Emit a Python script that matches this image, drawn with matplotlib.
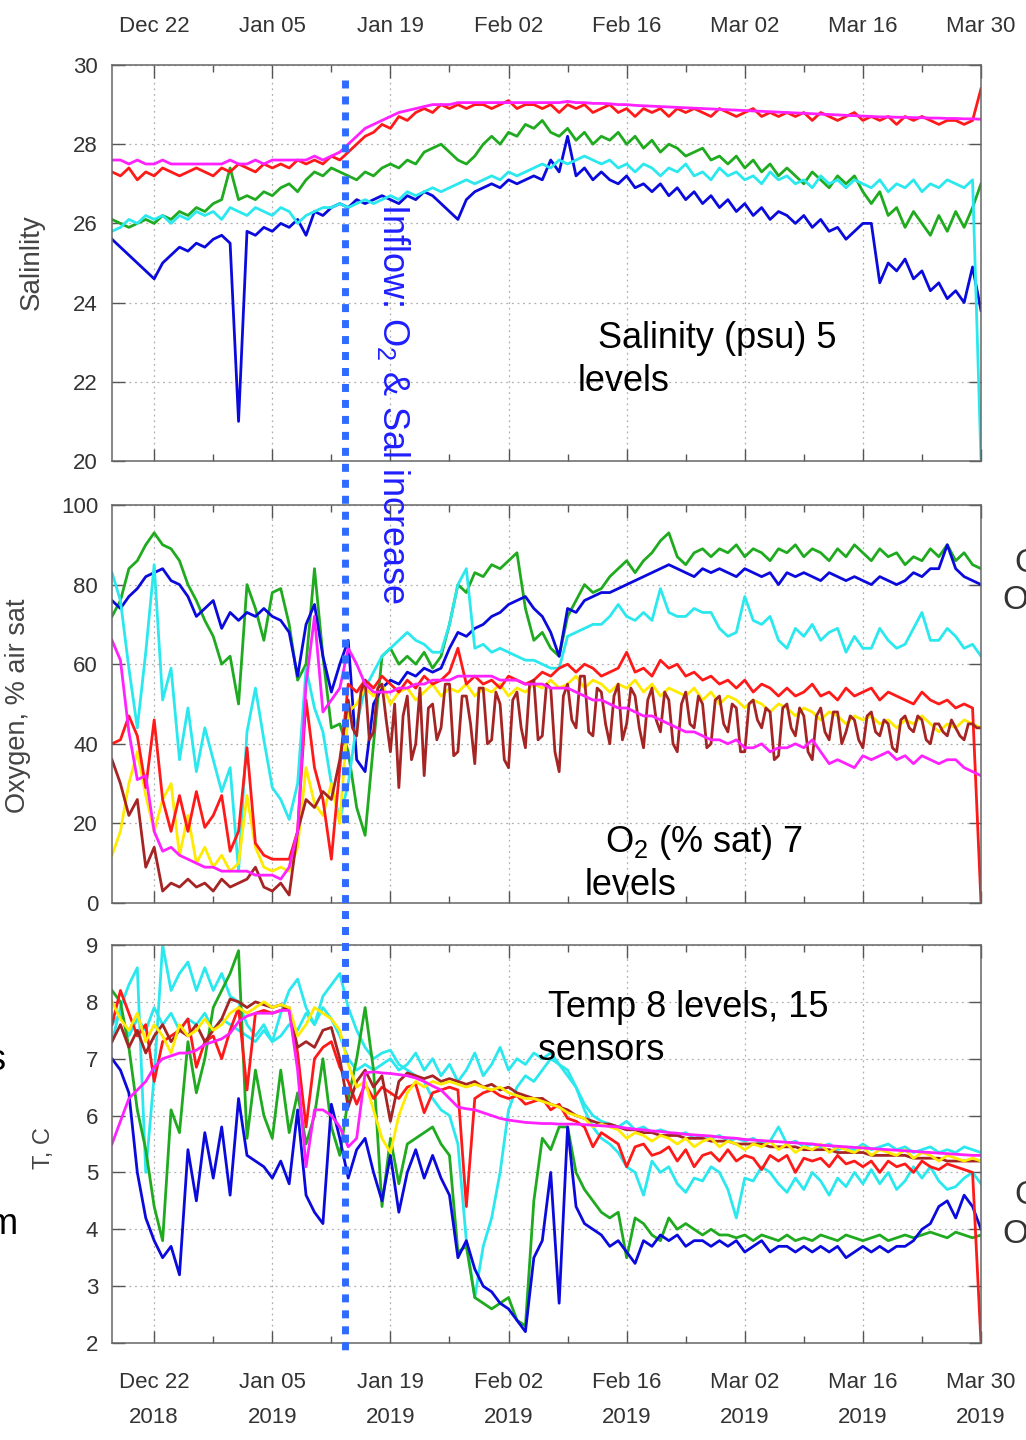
import matplotlib
matplotlib.use('Agg')
import matplotlib.pyplot as plt
import numpy as np
from matplotlib.lines import Line2D
from matplotlib import transforms

plt.rcParams['font.family'] = ['Liberation Sans', 'DejaVu Sans']
plt.rcParams['mathtext.fontset'] = 'custom'
plt.rcParams['mathtext.rm'] = 'Liberation Sans'
plt.rcParams['mathtext.it'] = 'Liberation Sans:italic'

# day 0 = 17 Dec 2018 ... day 103 = 30 Mar 2019, one value per day
tick_days = [5, 19, 33, 47, 61, 75, 89, 103]
minor_days = [12, 26, 40, 54, 68, 82, 96]
tick_top = ['Dec 22', 'Jan 05', 'Jan 19', 'Feb 02', 'Feb 16', 'Mar 02', 'Mar 16', 'Mar 30']
tick_years = ['2018', '2019', '2019', '2019', '2019', '2019', '2019', '2019']
inflow_day = 27.6

# ---- salinity (psu)
sal_red = [27.3, 27.2, 27.4, 27.1, 27.3, 27.2, 27.4, 27.3, 27.2, 27.3,
           27.4, 27.3, 27.2, 27.4, 27.3, 27.5, 27.4, 27.3, 27.5, 27.4,
           27.5, 27.4, 27.6, 27.5, 27.6, 27.5, 27.7, 27.6, 27.8, 28.0,
           28.2, 28.3, 28.5, 28.4, 28.7, 28.6, 28.8, 28.9, 28.8, 29.0,
           28.9, 29.0, 28.9, 29.0, 29.0, 28.9, 29.0, 29.1, 28.9, 29.0,
           29.0, 28.9, 29.0, 28.8, 29.0, 28.9, 29.0, 28.8, 28.9, 29.0,
           28.8, 28.9, 28.7, 28.9, 28.8, 28.9, 28.7, 28.9, 28.8, 28.9,
           28.8, 28.7, 28.9, 28.8, 28.7, 28.8, 28.9, 28.7, 28.8, 28.7,
           28.8, 28.7, 28.8, 28.6, 28.8, 28.7, 28.6, 28.7, 28.8, 28.6,
           28.7, 28.6, 28.7, 28.5, 28.7, 28.6, 28.7, 28.6, 28.5, 28.6,
           28.6, 28.5, 28.6, 29.4]
sal_magenta = [27.6, 27.6, 27.5, 27.6, 27.5, 27.5, 27.6, 27.5, 27.5, 27.5,
               27.5, 27.5, 27.5, 27.5, 27.6, 27.5, 27.5, 27.6, 27.5, 27.6,
               27.6, 27.6, 27.6, 27.6, 27.7, 27.6, 27.7, 27.8, 28.0, 28.2,
               28.4, 28.5, 28.6, 28.7, 28.8, 28.85, 28.9, 28.95, 29.0, 29.0,
               29.0, 29.05, 29.05, 29.05, 29.05, 29.05, 29.05, 29.05, 29.05, 29.05,
               29.05, 29.05, 29.05, 29.05, 29.08, 29.05, 29.05, 29.03, 29.03, 29.02,
               29.0, 29.0, 28.98, 28.97, 28.96, 28.95, 28.94, 28.93, 28.92, 28.91,
               28.9, 28.89, 28.88, 28.87, 28.86, 28.85, 28.84, 28.83, 28.82, 28.81,
               28.8, 28.79, 28.78, 28.77, 28.76, 28.75, 28.74, 28.73, 28.72, 28.71,
               28.7, 28.69, 28.69, 28.68, 28.68, 28.67, 28.67, 28.66, 28.66, 28.65,
               28.65, 28.64, 28.64, 28.63]
sal_green = [26.1, 26.0, 25.9, 26.0, 26.1, 26.0, 26.2, 26.1, 26.3, 26.2,
             26.4, 26.3, 26.5, 26.6, 27.4, 26.6, 26.7, 26.6, 26.8, 26.7,
             26.9, 27.0, 26.8, 27.1, 27.3, 27.2, 27.4, 27.3, 27.2, 27.1,
             27.3, 27.2, 27.4, 27.5, 27.4, 27.6, 27.5, 27.8, 27.9, 28.0,
             27.8, 27.6, 27.5, 27.7, 28.0, 28.2, 28.0, 28.3, 28.2, 28.5,
             28.4, 28.6, 28.3, 28.2, 28.4, 28.1, 28.3, 28.0, 28.2, 28.1,
             28.3, 28.0, 28.2, 27.9, 28.1, 27.8, 28.0, 27.9, 27.7, 27.8,
             27.9, 27.6, 27.7, 27.5, 27.7, 27.4, 27.6, 27.3, 27.5, 27.2,
             27.4, 27.2, 27.0, 27.3, 27.1, 26.9, 27.2, 27.0, 27.2, 26.8,
             26.5, 26.8, 26.2, 26.4, 25.9, 26.3, 26.0, 25.7, 26.2, 25.8,
             26.3, 25.9, 26.4, 27.0]
sal_cyan = [25.8, 25.9, 26.1, 26.0, 26.2, 26.1, 26.2, 26.0, 26.2, 26.1,
            26.3, 26.2, 26.3, 26.1, 26.4, 26.3, 26.2, 26.4, 26.3, 26.2,
            26.4, 26.3, 26.0, 26.2, 26.3, 26.4, 26.4, 26.5, 26.4, 26.5,
            26.6, 26.5, 26.6, 26.7, 26.6, 26.8, 26.7, 26.8, 26.9, 26.8,
            26.9, 27.0, 27.1, 27.0, 27.1, 27.2, 27.1, 27.3, 27.2, 27.3,
            27.4, 27.5, 27.4, 27.6, 27.5, 27.6, 27.7, 27.6, 27.5, 27.6,
            27.4, 27.5, 27.3, 27.5, 27.4, 27.2, 27.4, 27.3, 27.5, 27.2,
            27.3, 27.1, 27.4, 27.2, 27.3, 27.1, 27.2, 27.0, 27.3, 27.1,
            27.2, 27.0, 27.1, 26.9, 27.2, 27.0, 27.1, 26.9, 27.1, 27.0,
            26.9, 27.1, 26.8, 27.0, 26.9, 27.1, 26.8, 27.0, 26.9, 27.1,
            27.0, 26.9, 27.1, 20.0]
sal_blue = [25.6, 25.4, 25.2, 25.0, 24.8, 24.6, 25.0, 25.2, 25.4, 25.3,
            25.5, 25.4, 25.6, 25.7, 25.5, 21.0, 25.8, 25.7, 25.9, 25.8,
            26.0, 25.9, 26.1, 25.7, 26.3, 26.2, 26.4, 26.5, 26.4, 26.6,
            26.5, 26.6, 26.7, 26.6, 26.5, 26.7, 26.6, 26.8, 26.7, 26.5,
            26.3, 26.1, 26.6, 26.8, 26.9, 27.0, 26.9, 27.1, 27.0, 27.1,
            27.2, 27.1, 27.6, 27.3, 28.2, 27.2, 27.4, 27.1, 27.3, 27.1,
            27.0, 27.2, 26.9, 27.0, 26.8, 27.0, 26.7, 26.9, 26.6, 26.8,
            26.5, 26.7, 26.4, 26.6, 26.3, 26.5, 26.2, 26.4, 26.1, 26.3,
            26.2, 26.0, 26.2, 25.9, 26.1, 25.8, 25.9, 25.6, 25.8, 26.0,
            26.0, 24.5, 25.0, 24.8, 25.1, 24.6, 24.8, 24.3, 24.5, 24.1,
            24.3, 24.0, 24.9, 23.8]

# ---- oxygen (% air saturation)
ox_green = [72, 76, 84, 86, 90, 93, 90, 89, 86, 80,
            76, 71, 67, 60, 62, 50, 80, 74, 66, 78,
            79, 70, 56, 60, 84, 62, 44, 45, 38, 24,
            17, 40, 62, 64, 60, 62, 60, 63, 59, 62,
            70, 80, 78, 83, 82, 85, 84, 86, 88, 74,
            66, 68, 64, 62, 72, 76, 80, 78, 79, 82,
            84, 86, 83, 86, 88, 91, 93, 87, 85, 88,
            89, 87, 89, 88, 90, 87, 89, 88, 86, 89,
            88, 90, 87, 89, 88, 86, 89, 87, 90, 88,
            86, 89, 87, 88, 85, 87, 86, 89, 87, 90,
            86, 88, 85, 84]
ox_blue = [76, 74, 77, 79, 82, 83, 84, 81, 80, 77,
           72, 74, 76, 69, 73, 71, 73, 72, 74, 72,
           71, 68, 57, 70, 75, 62, 53, 60, 66, 36,
           33, 50, 54, 56, 55, 58, 57, 59, 58, 59,
           64, 68, 67, 69, 70, 72, 73, 75, 76, 77,
           74, 72, 68, 62, 74, 73, 76, 77, 78, 78,
           79, 80, 81, 82, 83, 84, 85, 84, 83, 82,
           84, 83, 84, 83, 82, 84, 83, 82, 83, 80,
           83, 82, 83, 82, 81, 83, 82, 81, 82, 81,
           80, 82, 81, 80, 81, 83, 82, 84, 84, 90,
           84, 82, 81, 80]
ox_cyan = [83, 76, 59, 44, 63, 85, 51, 59, 36, 49,
           33, 44, 36, 28, 34, 8, 43, 54, 41, 29,
           26, 21, 30, 59, 49, 43, 30, 21, 30, 45,
           54, 58, 62, 64, 66, 68, 66, 65, 63, 63,
           70, 80, 84, 64, 65, 63, 64, 63, 62, 61,
           61, 60, 59, 59, 67, 68, 69, 70, 70, 72,
           75, 72, 71, 73, 71, 79, 73, 72, 72, 74,
           73, 73, 69, 67, 68, 77, 71, 70, 72, 66,
           64, 69, 67, 70, 66, 68, 69, 63, 67, 64,
           64, 69, 66, 64, 65, 69, 73, 66, 66, 69,
           67, 64, 65, 62]
ox_yellow = [12, 18, 30, 38, 27, 18, 26, 30, 12, 22,
             10, 14, 9, 12, 8, 10, 27, 14, 9, 8,
             9, 8, 14, 34, 25, 22, 30, 20, 48, 50,
             54, 52, 55, 50, 53, 54, 51, 53, 55, 52,
             54, 53, 55, 52, 54, 53, 55, 52, 54, 53,
             55, 54, 56, 54, 55, 57, 54, 56, 55, 53,
             55, 54, 56, 53, 55, 52, 54, 53, 52, 54,
             51, 53, 50, 52, 51, 49, 51, 50, 48, 50,
             49, 47, 49, 48, 46, 48, 47, 45, 47, 46,
             47, 45, 46, 44, 46, 45, 47, 45, 43, 45,
             44, 46, 45, 44]
ox_red = [40, 41, 47, 42, 29, 46, 26, 18, 27, 18,
          28, 19, 22, 27, 13, 18, 39, 15, 12, 11,
          11, 11, 18, 51, 34, 26, 11, 34, 55, 53,
          56, 54, 57, 55, 53, 56, 54, 57, 55, 56,
          58, 64, 55, 57, 55, 56, 54, 57, 56, 55,
          56, 58, 57, 59, 60, 58, 60, 59, 57, 58,
          59, 63, 58, 59, 57, 61, 59, 60, 57, 58,
          56, 57, 55, 56, 54, 56, 53, 55, 54, 52,
          54, 52, 53, 55, 52, 53, 51, 54, 52, 53,
          54, 51, 53, 52, 51, 50, 53, 51, 50, 51,
          49, 50, 49, 0]
# brown: daily to day 27, then every half day from day 28 to day 103
ox_brown_early = [36, 30, 22, 26, 9, 14, 3, 5, 4, 6,
                  4, 5, 3, 6, 4, 5, 6, 9, 4, 3,
                  5, 2, 18, 26, 24, 28, 26, 36]
ox_brown_late = [51, 44, 42, 53, 56, 41, 43, 54, 55, 46,
                 38, 50, 29, 47, 52, 36, 40, 54, 32, 49,
                 50, 41, 44, 55, 55, 37, 38, 52, 52, 45,
                 35, 54, 54, 40, 41, 53, 50, 36, 34, 51,
                 53, 44, 39, 55, 56, 41, 42, 55, 54, 38,
                 33, 52, 55, 46, 44, 57, 57, 43, 42, 54,
                 53, 45, 40, 52, 55, 41, 45, 54, 52, 44,
                 39, 51, 54, 46, 43, 53, 51, 40, 38, 50,
                 53, 45, 44, 52, 50, 39, 40, 51, 52, 45,
                 43, 50, 49, 38, 38, 50, 51, 46, 44, 49,
                 48, 36, 37, 49, 50, 44, 42, 49, 47, 38,
                 36, 47, 49, 43, 41, 48, 48, 40, 43, 47,
                 46, 41, 39, 47, 48, 43, 42, 46, 45, 39,
                 38, 46, 47, 44, 43, 47, 46, 41, 40, 45,
                 45, 43, 42, 46, 44, 42, 41, 45, 45, 44,
                 44]
ox_magenta = [66, 61, 43, 31, 32, 18, 13, 14, 12, 11,
              10, 9, 9, 8, 8, 8, 8, 7, 7, 7,
              6, 9, 18, 55, 72, 48, 51, 54, 64, 60,
              55, 53, 53, 53, 54, 54, 55, 55, 56, 56,
              56, 57, 57, 57, 57, 57, 56, 56, 56, 55,
              55, 55, 54, 54, 54, 53, 52, 51, 51, 50,
              49, 49, 48, 47, 47, 46, 45, 44, 43, 43,
              42, 41, 41, 40, 41, 39, 39, 40, 38, 39,
              39, 40, 39, 41, 38, 35, 36, 35, 34, 37,
              36, 37, 38, 36, 37, 35, 37, 36, 35, 36,
              36, 34, 33, 32]

# ---- temperature (C)
t_blue = [7.0, 6.8, 6.4, 5.0, 4.2, 3.8, 3.5, 3.7, 3.2, 5.4,
          4.5, 5.7, 4.9, 5.8, 4.6, 6.3, 5.3, 5.2, 5.1, 4.9,
          5.2, 4.8, 6.1, 4.6, 4.3, 4.1, 6.2, 5.6, 4.9, 5.4,
          5.6, 5.0, 4.5, 5.3, 4.3, 5.0, 5.4, 4.9, 5.3, 4.9,
          4.6, 3.5, 3.8, 3.3, 3.0, 2.9, 2.7, 2.6, 2.4, 2.2,
          3.5, 3.8, 5.0, 2.7, 5.8, 4.4, 4.1, 4.0, 3.9, 3.7,
          3.8, 3.6, 3.4, 3.8, 3.7, 3.9, 3.8, 3.9, 3.7, 3.8,
          3.8, 3.7, 3.8, 3.7, 3.8, 3.6, 3.7, 3.8, 3.6, 3.7,
          3.7, 3.6, 3.7, 3.6, 3.7, 3.6, 3.7, 3.5, 3.6, 3.7,
          3.6, 3.7, 3.6, 3.7, 3.7, 3.8, 4.0, 4.1, 4.4, 4.5,
          4.2, 4.6, 4.4, 4.0]
t_green = [8.2, 8.0, 7.2, 6.1, 5.4, 4.4, 3.8, 6.1, 5.7, 7.3,
           6.4, 7.0, 7.9, 8.2, 8.5, 8.9, 5.6, 6.8, 6.0, 5.6,
           6.8, 5.7, 6.4, 5.5, 6.0, 7.0, 5.8, 5.3, 6.3, 7.0,
           7.9, 6.8, 4.4, 5.6, 4.8, 5.5, 5.6, 5.7, 5.8, 5.5,
           5.3, 3.6, 3.7, 2.8, 2.7, 2.6, 2.7, 2.8, 2.4, 2.3,
           4.5, 5.6, 5.4, 5.8, 5.8, 5.0, 4.7, 4.5, 4.3, 4.2,
           4.3, 3.5, 4.2, 4.1, 3.9, 3.8, 4.2, 4.0, 4.1, 4.0,
           3.9, 4.0, 3.9, 3.9, 3.85, 3.9, 3.8, 3.9, 3.85, 3.8,
           3.9, 3.8, 3.85, 3.8, 3.9, 3.85, 3.8, 3.9, 3.85, 3.8,
           3.85, 3.9, 3.8, 3.85, 3.9, 3.85, 3.9, 3.95, 3.9, 3.85,
           3.95, 3.9, 3.85, 3.9]
t_cyan_a = [7.3, 7.9, 8.3, 8.6, 5.0, 6.7, 9.0, 8.2, 8.5, 8.7,
            8.2, 8.6, 8.2, 8.5, 8.1, 8.0, 7.6, 7.4, 7.6, 7.3,
            7.8, 8.2, 8.4, 7.9, 7.6, 8.1, 8.3, 8.5, 7.9, 7.5,
            7.2, 7.0, 7.1, 7.15, 6.9, 6.8, 6.7, 6.6, 6.3, 6.1,
            6.0, 5.5, 3.8, 2.8, 3.7, 4.2, 5.0, 6.1, 6.5, 6.7,
            6.6, 6.8, 7.0, 6.9, 6.7, 6.5, 6.1, 5.8, 5.6, 5.5,
            5.35, 5.1, 5.0, 4.6, 5.2, 5.0, 5.1, 4.8, 4.65, 4.9,
            4.85, 5.1, 5.0, 4.7, 4.2, 4.9, 4.85, 5.1, 5.0, 4.8,
            4.65, 4.9, 4.7, 5.0, 4.85, 4.6, 4.9, 4.75, 5.0, 4.8,
            5.05, 4.8, 5.0, 4.7, 4.85, 5.1, 4.9, 5.1, 4.85, 4.7,
            4.75, 4.9, 5.0, 4.8]
t_cyan_b = [7.6, 7.8, 7.4, 7.7, 7.5, 7.9, 7.6, 7.8, 7.5, 7.7,
            7.6, 7.8, 7.5, 7.7, 7.6, 7.5, 7.4, 7.3, 7.5, 7.3,
            7.4, 7.6, 7.5, 7.8, 7.6, 7.9, 7.7, 7.4, 7.0, 6.8,
            6.9, 6.8, 6.9, 7.0, 6.8, 6.9, 7.1, 6.8, 7.0, 6.7,
            6.9, 6.6, 6.8, 7.1, 6.7, 6.9, 7.2, 6.8, 7.0, 6.9,
            7.1, 7.0, 7.1, 6.9, 6.8, 6.5, 6.2, 6.0, 5.9, 5.85,
            5.8, 5.9, 5.75, 5.8, 5.7, 5.75, 5.7, 5.65, 5.7, 5.6,
            5.65, 5.6, 5.65, 5.55, 5.6, 5.55, 5.6, 5.5, 5.55, 5.8,
            5.5, 5.55, 5.45, 5.5, 5.45, 5.5, 5.4, 5.45, 5.4, 5.5,
            5.4, 5.45, 5.5, 5.4, 5.45, 5.35, 5.4, 5.45, 5.35, 5.4,
            5.35, 5.45, 5.4, 5.35]
t_red = [7.6, 8.2, 7.8, 7.4, 7.6, 6.6, 7.3, 7.4, 7.5, 7.7,
         6.85, 7.3, 7.4, 7.0, 7.5, 7.9, 6.45, 7.8, 7.85, 7.8,
         7.85, 7.9, 7.1, 5.8, 7.0, 7.2, 7.3, 6.85, 6.6, 6.2,
         6.55, 6.3, 6.5, 6.4, 6.3, 6.5, 6.55, 6.05, 6.4, 6.45,
         6.5, 6.45, 4.4, 6.3, 6.4, 6.45, 6.35, 6.3, 6.35, 6.2,
         6.25, 6.3, 6.1, 6.2, 5.95, 5.9, 5.8, 5.45, 5.7, 5.6,
         5.5, 5.1, 5.45, 5.5, 5.3, 5.35, 5.45, 5.2, 5.4, 5.1,
         5.3, 5.35, 5.2, 5.4, 5.2, 5.3, 5.25, 5.05, 5.3, 5.2,
         5.3, 5.0, 5.25, 5.2, 5.25, 5.1, 5.3, 5.15, 5.2, 5.1,
         5.2, 5.0, 5.2, 5.1, 5.15, 5.0, 5.2, 5.1, 5.05, 5.15,
         5.1, 5.05, 5.0, 2.0]
t_yellow = [8.0, 7.7, 7.5, 7.8, 7.3, 7.6, 7.4, 7.1, 7.6, 7.4,
            7.5, 7.7, 7.5, 7.6, 7.8, 7.9, 7.8, 7.9, 8.0, 7.9,
            7.95, 7.9, 7.4, 7.6, 7.9, 7.8, 7.7, 7.5, 6.9, 6.5,
            6.6, 6.1, 5.6, 5.35, 6.0, 6.4, 6.6, 6.5, 6.6, 6.55,
            6.6, 6.55, 6.5, 6.55, 6.5, 6.45, 6.5, 6.4, 6.35, 6.3,
            6.3, 6.25, 6.2, 6.15, 6.05, 6.0, 5.95, 5.8, 5.85, 5.8,
            5.75, 5.6, 5.7, 5.65, 5.55, 5.65, 5.6, 5.5, 5.6, 5.45,
            5.55, 5.6, 5.45, 5.55, 5.5, 5.4, 5.5, 5.45, 5.55, 5.4,
            5.5, 5.35, 5.45, 5.4, 5.5, 5.35, 5.45, 5.4, 5.35, 5.45,
            5.3, 5.4, 5.35, 5.3, 5.4, 5.25, 5.35, 5.3, 5.2, 5.3,
            5.25, 5.2, 5.25, 5.2]
t_brown = [7.3, 7.6, 7.2, 7.5, 7.1, 7.4, 7.6, 7.3, 7.5, 7.4,
           7.6, 7.3, 7.5, 7.7, 8.05, 8.0, 7.9, 8.0, 7.95, 7.9,
           7.95, 7.85, 7.2, 7.3, 7.2, 7.5, 7.55, 7.0, 6.15, 6.6,
           6.8, 6.5, 6.7, 5.9, 6.6, 6.75, 6.7, 6.65, 6.7, 6.6,
           6.65, 6.6, 6.55, 6.6, 6.5, 6.55, 6.45, 6.5, 6.4, 6.35,
           6.3, 6.3, 6.2, 6.15, 6.1, 6.0, 5.95, 5.9, 5.85, 5.85,
           5.8, 5.75, 5.75, 5.7, 5.7, 5.65, 5.65, 5.65, 5.6, 5.6,
           5.6, 5.55, 5.55, 5.55, 5.5, 5.5, 5.5, 5.5, 5.45, 5.45,
           5.45, 5.45, 5.4, 5.4, 5.4, 5.4, 5.35, 5.35, 5.35, 5.35,
           5.3, 5.3, 5.3, 5.3, 5.3, 5.25, 5.25, 5.25, 5.25, 5.2,
           5.2, 5.2, 5.2, 5.2]
t_magenta = [5.5, 5.9, 6.3, 6.45, 6.6, 6.85, 7.0, 7.05, 7.1, 7.1,
             7.15, 7.25, 7.3, 7.35, 7.45, 7.65, 7.75, 7.8, 7.8, 7.8,
             7.85, 7.85, 6.8, 5.1, 6.1, 6.1, 6.0, 5.8, 5.45, 5.6,
             6.75, 6.77, 6.75, 6.74, 6.72, 6.7, 6.66, 6.6, 6.52, 6.45,
             6.3, 6.15, 6.12, 6.1, 6.05, 6.0, 5.95, 5.92, 5.9, 5.88,
             5.87, 5.86, 5.86, 5.85, 5.85, 5.85, 5.84, 5.83, 5.82, 5.81,
             5.8, 5.78, 5.76, 5.75, 5.73, 5.72, 5.7, 5.69, 5.67, 5.66,
             5.65, 5.64, 5.62, 5.61, 5.6, 5.58, 5.57, 5.56, 5.55, 5.54,
             5.53, 5.52, 5.51, 5.5, 5.48, 5.47, 5.46, 5.45, 5.44, 5.43,
             5.42, 5.41, 5.4, 5.39, 5.38, 5.37, 5.36, 5.35, 5.34, 5.33,
             5.32, 5.31, 5.3, 5.3]

BLUE = '#0a0adc'
GREEN = '#1faa1f'
CYAN = '#2ae8ee'
RED = '#ff1a1a'
MAGENTA = '#ff22ff'
YELLOW = '#ffea00'
BROWN = '#a52424'

W, H = 1026, 1440
fig = plt.figure(figsize=(W / 100, H / 100), dpi=100)


def box(top, bottom):
    return [112 / W, 1 - bottom / H, 869 / W, (bottom - top) / H]


def fx(x):
    return x / W


def fy(y):
    return 1 - y / H


def daily(vals):
    return np.arange(len(vals))


ax1 = fig.add_axes(box(65, 461))
ax2 = fig.add_axes(box(505, 903))
ax3 = fig.add_axes(box(945, 1343))


def draw(ax, series):
    for x, vals, col in series:
        ax.plot(x, vals, color=col, lw=2.0)


def style(ax, ylim, yticks):
    ax.set_xlim(0, 103)
    ax.set_ylim(*ylim)
    ax.set_xticks(tick_days)
    ax.set_xticks(minor_days, minor=True)
    ax.set_yticks(yticks)
    ax.grid(True, which='major', color='#b0b0b0', linestyle=(0, (1.5, 3)), linewidth=0.9)
    ax.tick_params(which='both', direction='in', top=True, right=True,
                   colors='#555555', labelcolor='#333333', labelsize=16)
    ax.tick_params(which='major', length=9, width=1.0)
    ax.tick_params(which='minor', length=5, width=1.0)
    ax.tick_params(axis='y', pad=10)
    for s in ax.spines.values():
        s.set_color('#666666')
        s.set_linewidth(1.1)


draw(ax1, [(daily(sal_blue), sal_blue, BLUE), (daily(sal_green), sal_green, GREEN),
           (daily(sal_cyan), sal_cyan, CYAN), (daily(sal_red), sal_red, RED),
           (daily(sal_magenta), sal_magenta, MAGENTA)])
style(ax1, (20, 30), range(20, 31, 2))
ax1.tick_params(axis='x', labeltop=True, labelbottom=False, pad=20)
ax1.set_xticklabels(tick_top)

ox_brown = ox_brown_early + ox_brown_late
ox_brown_days = np.concatenate([np.arange(len(ox_brown_early)),
                                len(ox_brown_early) + 0.5 * np.arange(len(ox_brown_late))])
draw(ax2, [(daily(ox_green), ox_green, GREEN), (daily(ox_blue), ox_blue, BLUE),
           (daily(ox_cyan), ox_cyan, CYAN), (daily(ox_yellow), ox_yellow, YELLOW),
           (daily(ox_red), ox_red, RED), (ox_brown_days, ox_brown, BROWN),
           (daily(ox_magenta), ox_magenta, MAGENTA)])
style(ax2, (0, 100), range(0, 101, 20))
ax2.tick_params(axis='x', labelbottom=False)

draw(ax3, [(daily(t_cyan_a), t_cyan_a, CYAN), (daily(t_cyan_b), t_cyan_b, CYAN),
           (daily(t_green), t_green, GREEN), (daily(t_blue), t_blue, BLUE),
           (daily(t_red), t_red, RED), (daily(t_brown), t_brown, BROWN),
           (daily(t_yellow), t_yellow, YELLOW), (daily(t_magenta), t_magenta, MAGENTA)])
style(ax3, (2, 9), range(2, 10))
ax3.tick_params(axis='x', pad=21)
ax3.set_xticklabels([a + '\n' + b for a, b in zip(tick_top, tick_years)], linespacing=1.85)

# y labels
fig.text(fx(32), fy(262), 'Salinlity', rotation=90, ha='center', va='center', fontsize=20, color='#444444')
fig.text(fx(18), fy(706), 'Oxygen, % air sat', rotation=90, ha='center', va='center', fontsize=19.5, color='#444444')
fig.text(fx(44), fy(1148), 'T, C', rotation=90, ha='center', va='center', fontsize=17, color='#444444')

# inflow marker across all panels
trans = transforms.blended_transform_factory(ax1.transData, fig.transFigure)
fig.add_artist(Line2D([inflow_day, inflow_day], [fy(80), fy(1350)], transform=trans,
                      color='#2f6bff', lw=5, linestyle=(0, (1.15, 1.15)),
                      dash_capstyle='butt', zorder=10))
fig.text(fx(393), fy(404), r'Inflow: O$_{\mathrm{2}}$ & Sal increase', rotation=-90,
         ha='center', va='center', fontsize=26, color='#1f1fff')

# panel notes
fig.text(fx(598), fy(348), 'Salinity (psu) 5', fontsize=26, va='baseline')
fig.text(fx(578), fy(391), 'levels', fontsize=26, va='baseline')
fig.text(fx(605), fy(852), r'O$_{\mathrm{2}}$ (% sat) 7', fontsize=26, va='baseline')
fig.text(fx(585), fy(895), 'levels', fontsize=26, va='baseline')
fig.text(fx(548), fy(1017), 'Temp 8 levels, 15', fontsize=26, va='baseline')
fig.text(fx(538), fy(1060), 'sensors', fontsize=26, va='baseline')

# text cut off at the slide edges, as in the source slide
fig.text(fx(6), fy(1060), 's', fontsize=26, ha='right', va='center')
fig.text(fx(18), fy(1225), 'm', fontsize=26, ha='right', va='center')
for y0 in (563, 1196):
    fig.text(fx(1014), fy(y0), 'O', fontsize=24, va='center', color='#333333')
    fig.text(fx(1002), fy(y0 + 38), 'Op', fontsize=24, va='center', color='#333333')

fig.savefig('out.png', dpi=100)
